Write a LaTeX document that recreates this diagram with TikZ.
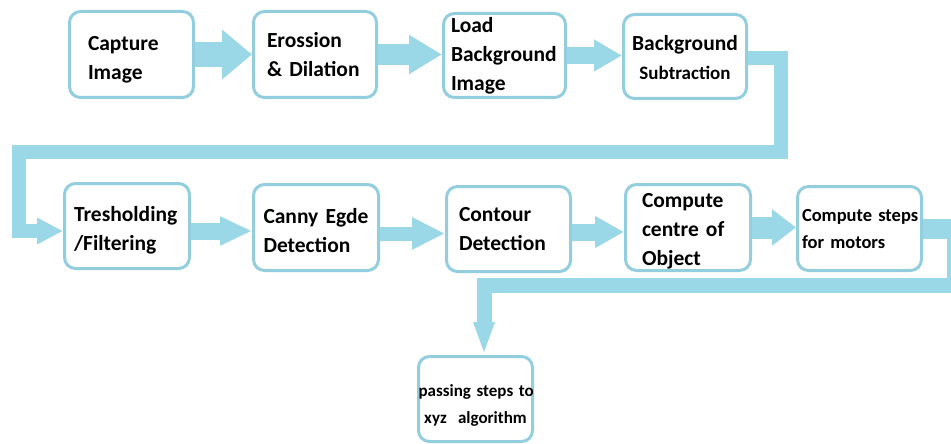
\documentclass[tikz,border=0pt]{standalone}
\usepackage{fontspec}
\setmainfont{Carlito}
\usetikzlibrary{arrows.meta}
\definecolor{arrowc}{RGB}{155,216,231}
\definecolor{boxc}{RGB}{146,206,222}
\newcommand{\tpad}[1]{\rule{0pt}{#1}}
\newcommand{\tightsp}{\spaceskip=0.18em\relax}
\begin{document}
\begin{tikzpicture}[x=1pt,y=-1pt,
  box/.style={draw=boxc, line width=3pt, rounded corners=11pt, fill=white, inner sep=0pt,
    align=left, font=\fontsize{21.5}{29}\selectfont\bfseries\tightsp},
  fat/.style={draw=arrowc, line cap=butt, line join=miter},
]
\useasboundingbox (0,0) rectangle (951,444);
\clip (0,0) rectangle (951,444);
\fill[white] (0,0) rectangle (951,444);

% row 1
\node[box, minimum width=124pt, minimum height=86pt, text width=87pt] (b1) at (131.5,54.5) {\tpad{24pt}Capture\\Image};
\node[box, minimum width=123pt, minimum height=86pt, text width=96pt] (b2) at (315,54.5) {Erossion\\\mbox{\& Dilation}};
\node[box, minimum width=122pt, minimum height=84pt, text width=107pt] (b3) at (504.5,55.5) {Load\\Background\\Image};
\node[box, minimum width=123pt, minimum height=84pt, text width=115pt, align=center] (b4) at (685,56.5) {\tpad{18pt}Background\\{\fontsize{19}{29}\selectfont Subtraction}};

% row 2
\node[box, minimum width=125pt, minimum height=85pt, text width=106pt] (b5) at (127,226) {\tpad{23pt}Tresholding\\/Filtering};
\node[box, minimum width=125pt, minimum height=86pt, text width=105pt] (b6) at (316,227.5) {\tpad{22pt}\mbox{Canny Egde}\\Detection};
\node[box, minimum width=124pt, minimum height=85pt, text width=99pt] (b7) at (508.5,229) {Contour\\Detection};
\node[box, minimum width=125pt, minimum height=86pt, text width=92pt] (b8) at (688,227.5) {\tpad{22pt}Compute\\\mbox{centre of}\\Object};
\node[box, minimum width=124pt, minimum height=84pt, text width=115pt,
  font=\fontsize{18.5}{27}\selectfont\bfseries\tightsp] (b9) at (859.5,228.5) {\tpad{18pt}\mbox{Compute steps}\\\mbox{for motors}\rule[-5pt]{0pt}{0pt}};

% bottom
\node[box, minimum width=114pt, minimum height=85pt, text width=114pt, align=center,
  font=\fontsize{17}{27}\selectfont\bfseries\tightsp] (b10) at (475.5,399) {\tpad{25pt}\mbox{passing steps to}\\\mbox{xyz\ \ algorithm}};

% row 1 arrows
\draw[fat, line width=25pt, -{Triangle[length=30pt,width=48pt]}] (b1.east) -- (b1.east -| b2.west);
\draw[fat, line width=21pt, -{Triangle[length=33pt,width=37pt]}] (b2.east) -- (b2.east -| b3.west);
\draw[fat, line width=17pt, -{Triangle[length=28pt,width=30pt]}] (b3.east) -- (b3.east -| b4.west);

% long connector row 1 -> row 2
\coordinate (k1) at (781,58);
\coordinate (k2) at (781,152);
\coordinate (k3) at (19,152);
\coordinate (k4) at (19,231);
\draw[fat, line width=14pt, -{Triangle[length=26pt,width=25pt]}]
  (b4.east |- k1) -- (k1) -- (k2) -- (k3) -- (k4) -- (b5.west |- k4);

% row 2 arrows
\draw[fat, line width=17pt, -{Triangle[length=32pt,width=27pt]}] ([yshift=-5pt]b5.east) -- ([yshift=-5pt]b5.east -| b6.west);
\draw[fat, line width=14pt, -{Triangle[length=33pt,width=30pt]}] ([yshift=-6pt]b6.east) -- ([yshift=-6pt]b6.east -| b7.west);
\draw[fat, line width=17pt, -{Triangle[length=29pt,width=30pt]}] ([yshift=-3pt]b7.east) -- ([yshift=-3pt]b7.east -| b8.west);
\draw[fat, line width=22pt, -{Triangle[length=24pt,width=35pt]}] (b8.east) -- (b8.east -| b9.west);

% connector row 2 -> bottom box
\coordinate (m1) at (954,228.5);
\coordinate (m2) at (954,285);
\coordinate (m3) at (484,285);
\draw[fat, line width=20pt] (b9.east) -- ([xshift=8pt]m1);
\draw[fat, line width=15pt, -{Triangle[length=33pt,width=19pt]}]
  (b9.east) -- (m1) -- (m2) -- (m3) -- (b10.north -| m3);
\end{tikzpicture}
\end{document}
